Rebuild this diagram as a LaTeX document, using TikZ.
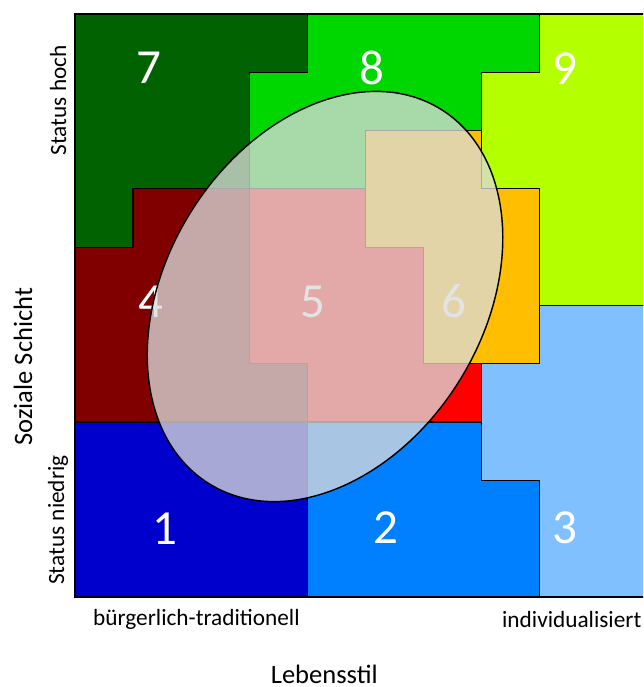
\documentclass[tikz,border=0pt]{standalone}
\usepackage{fontspec}
\setmainfont{Carlito}
\usepackage{xcolor}
\usepackage{tikz}
\usetikzlibrary{shapes.geometric}
\definecolor{milieuA}{RGB}{0,0,205}
\definecolor{milieuB}{RGB}{0,128,255}
\definecolor{milieuC}{RGB}{128,192,255}
\definecolor{milieuD}{RGB}{128,0,0}
\definecolor{milieuE}{RGB}{255,0,0}
\definecolor{milieuF}{RGB}{255,190,0}
\definecolor{milieuG}{RGB}{0,98,0}
\definecolor{milieuH}{RGB}{0,214,0}
\definecolor{milieuI}{RGB}{180,255,0}
\tikzset{
    feld/.style = {draw=black, line width=0.6pt},
    nummer/.style = {text=white, font=\fontsize{24}{28}\selectfont},
    achse/.style = {font=\fontsize{11.4}{13}\selectfont},
    titel/.style = {font=\fontsize{13}{15}\selectfont},
}
\begin{document}
\begin{tikzpicture}[x=1cm, y=1.0034cm]
\clip (-1.291,-1.544) rectangle (9.776,10.24);
% Felder
\draw[feld, fill=milieuG] (0,10) -- (4,10) -- (4,9) -- (3,9) -- (3,7) -- (1,7) -- (1,6) -- (0,6) -- cycle;
\draw[feld, fill=milieuH] (4,10) -- (8,10) -- (8,9) -- (7,9) -- (7,8) -- (5,8) -- (5,7) -- (3,7) -- (3,9) -- (4,9) -- cycle;
\draw[feld, fill=milieuI] (8,10) -- (10,10) -- (10,5) -- (8,5) -- (8,7) -- (7,7) -- (7,9) -- (8,9) -- cycle;
\draw[feld, fill=milieuD] (0,6) -- (1,6) -- (1,7) -- (3,7) -- (3,4) -- (4,4) -- (4,3) -- (0,3) -- cycle;
\draw[feld, fill=milieuE] (3,7) -- (5,7) -- (5,6) -- (6,6) -- (6,4) -- (7,4) -- (7,3) -- (4,3) -- (4,4) -- (3,4) -- cycle;
\draw[feld, fill=milieuF] (5,8) -- (7,8) -- (7,7) -- (8,7) -- (8,4) -- (6,4) -- (6,6) -- (5,6) -- cycle;
\draw[feld, fill=milieuA] (0,0) -- (4,0) -- (4,3) -- (0,3) -- cycle;
\draw[feld, fill=milieuB] (4,0) -- (8,0) -- (8,2) -- (7,2) -- (7,3) -- (4,3) -- cycle;
\draw[feld, fill=milieuC] (8,0) -- (10,0) -- (10,5) -- (8,5) -- (8,4) -- (7,4) -- (7,2) -- (8,2) -- cycle;
%
\node[nummer] at (1.27,9.07) (n7) {7};
\node[nummer] at (5.11,9.07) (n8) {8};
\node[nummer] at (8.43,9.07) (n9) {9};
\node[nummer] at (1.31,5.06) (n4) {4};
\node[nummer] at (4.10,5.06) (n5) {5};
\node[nummer] at (6.52,5.07) (n6) {6};
\node[nummer] at (1.55,1.17) (n1) {1};
\node[nummer] at (5.35,1.19) (n2) {2};
\node[nummer] at (8.43,1.19) (n3) {3};
% Ellipse
\node[ellipse, draw=black, line width=0.7pt, fill=white!86!black, fill opacity=0.77,
      inner sep=0pt, minimum width=7.58cm, minimum height=5.46cm, rotate=58.3]
      at (4.303,5.154) (ell) {};
% Achsen
\node[achse] at (2.09,-0.39) (links) {bürgerlich-traditionell};
\node[achse] at (8.55,-0.39) (rechts) {individualisiert};
\node[titel] at (4.29,-1.32) (xtitel) {Lebensstil};
\node[achse, rotate=90] at (-0.29,8.52) (oben) {Status hoch};
\node[achse, rotate=90] at (-0.29,1.32) (unten) {Status niedrig};
\node[titel, rotate=90] at (-0.895,3.95) (ytitel) {Soziale Schicht};
\end{tikzpicture}
\end{document}
